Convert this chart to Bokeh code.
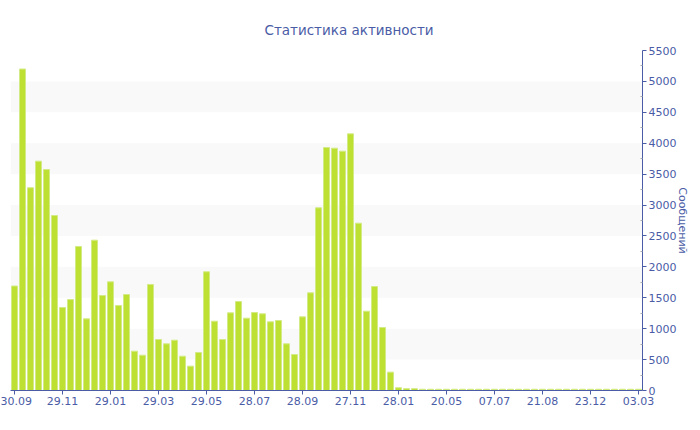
from bokeh.plotting import figure
from bokeh.models import ColumnDataSource, Range1d, FixedTicker
from bokeh.embed import file_html
from bokeh.resources import INLINE

# Data: one bar per ~10-day bin
values = [1690, 5200, 3280, 3710, 3575, 2830, 1343, 1472, 2330, 1159,
          2432, 1537, 1758, 1375, 1553, 636, 571, 1715, 825, 755,
          814, 555, 394, 615, 1920, 1121, 825, 1256, 1440, 1170,
          1262, 1240, 1111, 1132, 755, 582, 1191, 1580, 2955, 3931,
          3920, 3872, 4152, 2707, 1283, 1682, 1019, 297, 45, 30,
          30, 20, 20, 20, 20, 20, 20, 20, 20, 20,
          20, 20, 20, 20, 20, 20, 20, 20, 20, 20,
          20, 20, 20, 20, 20, 20, 20, 20, 20]
tick_labels = ["30.09", "29.11", "29.01", "29.03", "29.05", "28.07", "28.09",
               "27.11", "28.01", "20.05", "07.07", "21.08", "23.12", "03.03"]
y_ticks = [0, 500, 1000, 1500, 2000, 2500, 3000, 3500, 4000, 4500, 5000, 5500]

title_text = "Статистика активности"
y_title = "Сообщений"

idx = list(range(len(values)))
tick_idx = [i * 6 for i in range(len(tick_labels))]

AX = "#4a5ca6"
FONT = "DejaVu Sans"

p = figure(width=692, height=422, output_backend="svg", toolbar_location=None,
           x_range=Range1d(-0.5, len(values) - 0.5), y_range=Range1d(0, 5500),
           y_axis_location="right", title=title_text,
           min_border_left=10, min_border_right=42, min_border_top=50,
           min_border_bottom=32)

src = ColumnDataSource(data=dict(x=idx, top=values))
p.vbar(x="x", top="top", width=0.75, source=src, fill_color="#bde032",
       line_color="#d3eb86", line_width=1)

p.outline_line_color = None
p.background_fill_color = "white"
p.border_fill_color = "white"

p.title.text_font = FONT
p.title.text_font_size = "13.5px"
p.title.text_font_style = "normal"
p.title.text_color = AX
p.title.align = "left"
p.title.offset = 254
p.title.standoff = 25

p.xgrid.grid_line_color = None
p.ygrid.grid_line_color = None
p.ygrid.band_fill_color = "#f9f9f9"
p.ygrid.band_fill_alpha = 1.0

xa = p.xaxis[0]
xa.ticker = FixedTicker(ticks=tick_idx)
xa.major_label_overrides = {i: l for i, l in zip(tick_idx, tick_labels)}
xa.axis_line_color = AX
xa.major_tick_line_color = AX
xa.major_tick_out = 4
xa.major_tick_in = 0
xa.minor_tick_line_color = None
xa.major_label_text_color = AX
xa.major_label_text_font = FONT
xa.major_label_text_font_size = "11px"
xa.major_label_standoff = 2

ya = p.yaxis[0]
minor = [v + 250 for v in y_ticks[:-1]]
ya.ticker = FixedTicker(ticks=y_ticks, minor_ticks=minor)
ya.axis_line_color = AX
ya.major_tick_line_color = AX
ya.major_tick_out = 4
ya.major_tick_in = 0
ya.minor_tick_line_color = "#aaaaaa"
ya.minor_tick_out = 0
ya.minor_tick_in = 2
ya.major_label_text_color = AX
ya.major_label_text_font = FONT
ya.major_label_text_font_size = "11px"
ya.major_label_standoff = 2
ya.axis_label = y_title
ya.axis_label_text_color = AX
ya.axis_label_text_font = FONT
ya.axis_label_text_font_size = "11px"
ya.axis_label_text_font_style = "normal"
ya.axis_label_standoff = -3

open("out.html", "w").write(file_html(p, INLINE))
